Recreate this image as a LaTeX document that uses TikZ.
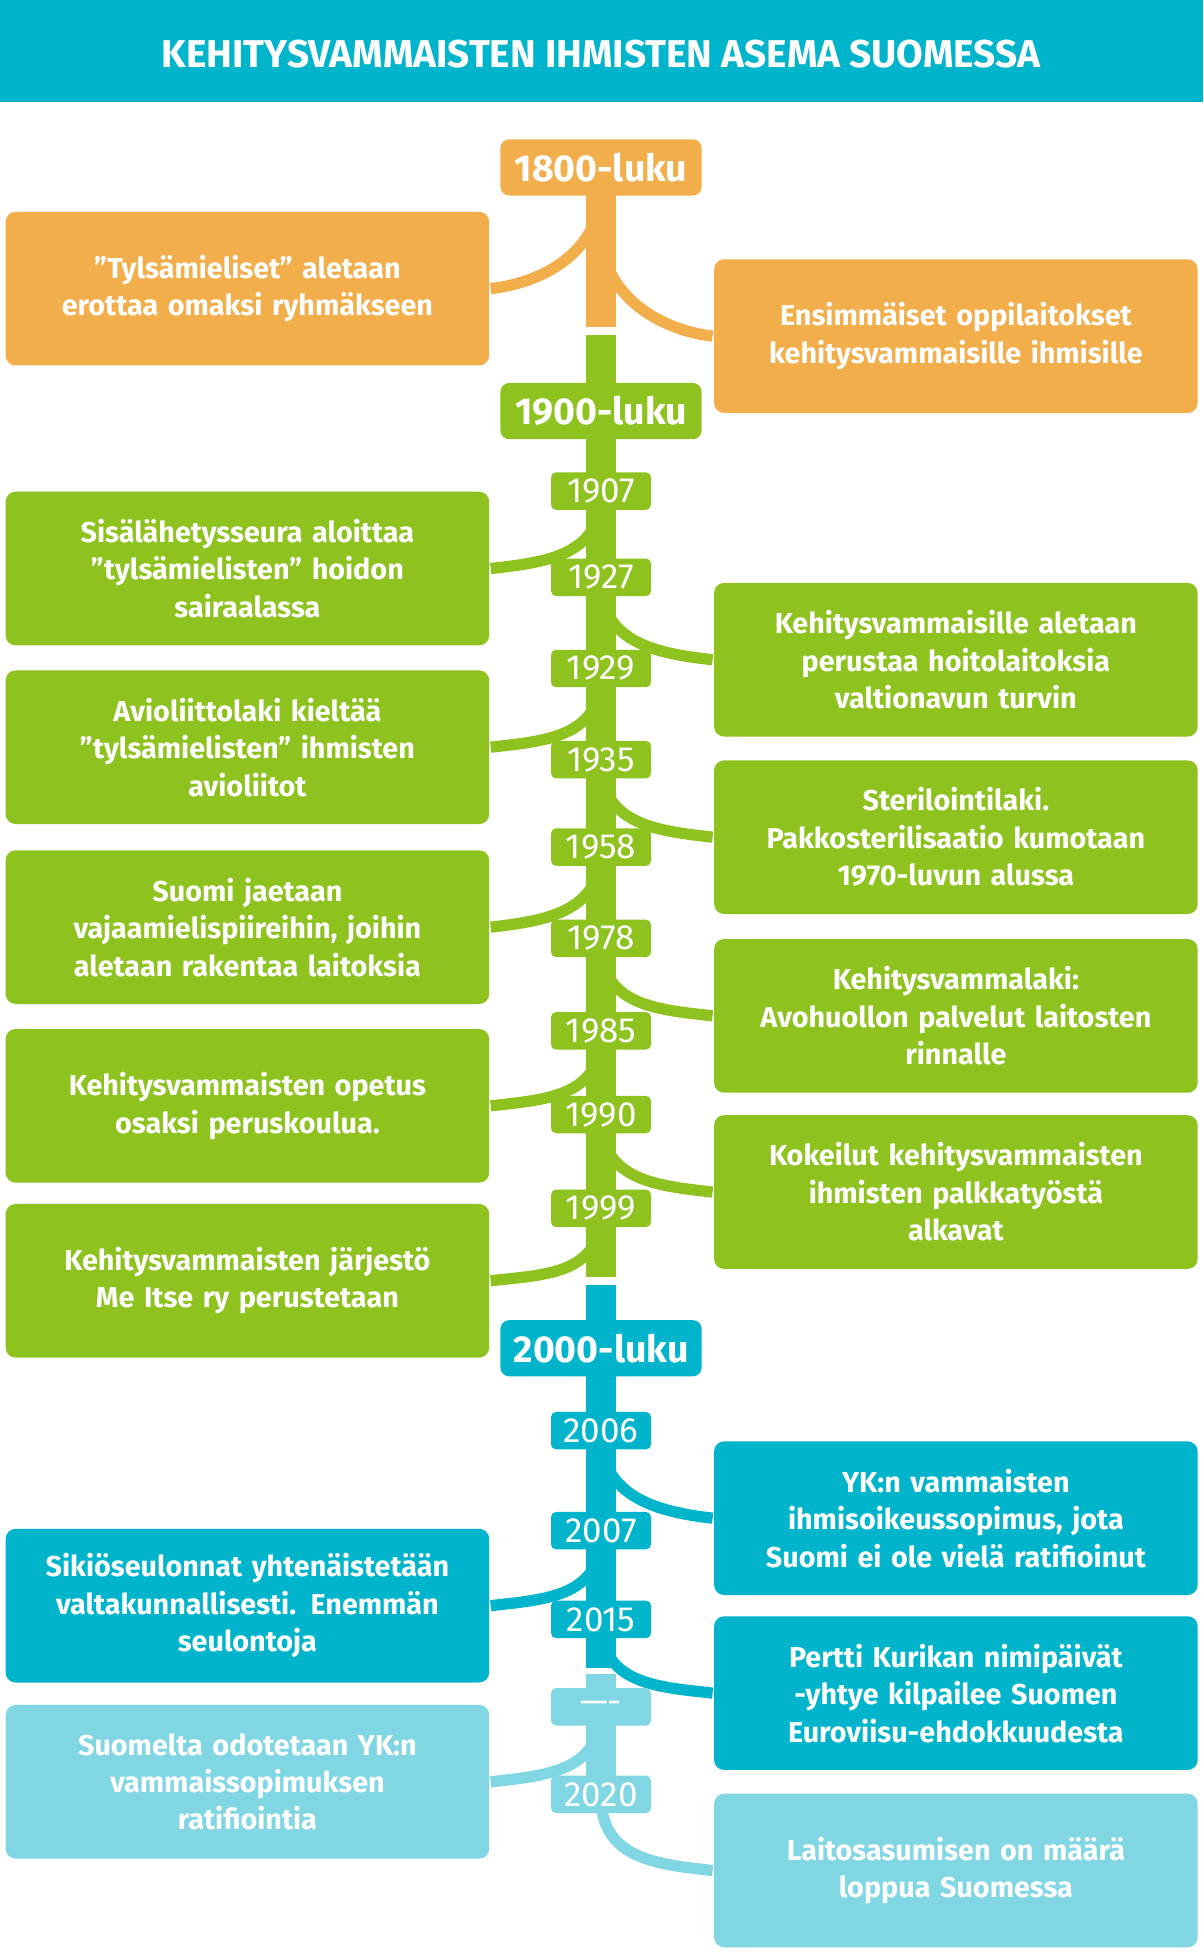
\documentclass[tikz,border=0pt]{standalone}
\usepackage{fontspec}
\setmainfont{Fira Sans}
\usetikzlibrary{calc}
\begin{document}
\begin{tikzpicture}[x=1pt,y=-1pt,
  box/.style={rounded corners=8pt,minimum width=387pt,minimum height=123pt,text width=370pt,align=center,text=white,font=\fontsize{23}{30}\selectfont\bfseries,inner sep=0pt},
  era/.style={rounded corners=7pt,minimum width=161pt,minimum height=45pt,text=white,font=\fontsize{30}{32}\selectfont\bfseries,inner sep=0pt},
  tag/.style={rounded corners=4pt,minimum width=80pt,minimum height=30pt,text=white,font=\fontsize{28}{30}\selectfont,inner sep=0pt},
  br/.style={line width=9pt}]
\definecolor{cor}{HTML}{F2AE4B}
\definecolor{cgr}{HTML}{8DC21F}
\definecolor{cte}{HTML}{00B5CB}
\definecolor{clt}{HTML}{80D6E2}
\useasboundingbox (0,0) rectangle (963,1563);
\fill[cte] (0,0) rectangle (963,82);
\node[text=white,font=\fontsize{31}{34}\selectfont\bfseries] (title) at (481,43) {KEHITYSVAMMAISTEN IHMISTEN ASEMA SUOMESSA};
% spine
\fill[cor] (469,150) rectangle (493,262);
\fill[cgr] (469,268) rectangle (493,1022);
\fill[cte] (469,1028) rectangle (493,1335);
\fill[clt] (469,1340) rectangle (493,1450);
% boxes
\node[box,fill=cor] (l0) at (198,231) {"Tylsämieliset" aletaan\\erottaa omaksi ryhmäkseen};
\node[box,fill=cor] (r0) at (765,269) {Ensimmäiset oppilaitokset\\kehitysvammaisille ihmisille};
\node[box,fill=cgr] (l1) at (198,455) {Sisälähetysseura aloittaa\\"tylsämielisten" hoidon\\sairaalassa};
\node[box,fill=cgr] (r1) at (765,528) {Kehitysvammaisille aletaan\\perustaa hoitolaitoksia\\valtionavun turvin};
\node[box,fill=cgr] (l2) at (198,598) {Avioliittolaki kieltää\\"tylsämielisten" ihmisten\\avioliitot};
\node[box,fill=cgr] (r2) at (765,670) {Sterilointilaki.\\Pakkosterilisaatio kumotaan\\1970-luvun alussa};
\node[box,fill=cgr] (l3) at (198,742) {Suomi jaetaan\\vajaamielispiireihin, joihin\\aletaan rakentaa laitoksia};
\node[box,fill=cgr] (r3) at (765,813) {Kehitysvammalaki:\\Avohuollon palvelut laitosten\\rinnalle};
\node[box,fill=cgr] (l4) at (198,885) {Kehitysvammaisten opetus\\osaksi peruskoulua.};
\node[box,fill=cgr] (r4) at (765,954) {Kokeilut kehitysvammaisten\\ihmisten palkkatyöstä\\alkavat};
\node[box,fill=cgr] (l5) at (198,1025) {Kehitysvammaisten järjestö\\Me Itse ry perustetaan};
\node[box,fill=cte] (r6) at (765,1215) {YK:n vammaisten\\ihmisoikeussopimus, jota\\Suomi ei ole vielä ratifioinut};
\node[box,fill=cte] (l6) at (198,1285) {Sikiöseulonnat yhtenäistetään\\valtakunnallisesti. Enemmän\\seulontoja};
\node[box,fill=cte] (r7) at (765,1355) {Pertti Kurikan nimipäivät\\-yhtye kilpailee Suomen\\Euroviisu-ehdokkuudesta};
\node[box,fill=clt] (l7) at (198,1426) {Suomelta odotetaan YK:n\\vammaissopimuksen\\ratifiointia};
\node[box,fill=clt] (r8) at (765,1497) {Laitosasumisen on määrä\\loppua Suomessa};
% spine points
\foreach \n/\y in {a0/150,b0/185,a1/395,b1/465,a2/540,b2/610,a3/680,b3/755,a4/828,b4/895,a5/970,b6/1148,a6/1228,b7/1298,a7/1368,b8/1438}
  \coordinate (s\n) at (481,\y);
\foreach \s/\t/\c in {a0/l0/cor,a1/l1/cgr,a2/l2/cgr,a3/l3/cgr,a4/l4/cgr,a5/l5/cgr,a6/l6/cte,a7/l7/clt}
  \draw[br,\c] (s\s) .. controls ($(s\s)+(0,50)$) and ($(\t.east)+(45,-5)$) .. ($(\t.east)+(1,0)$);
\foreach \s/\t/\c in {b0/r0/cor,b1/r1/cgr,b2/r2/cgr,b3/r3/cgr,b4/r4/cgr,b6/r6/cte,b7/r7/cte,b8/r8/clt}
  \draw[br,\c] (s\s) .. controls ($(s\s)+(0,50)$) and ($(\t.west)+(-45,-5)$) .. ($(\t.west)+(-1,0)$);
% eras
\node[era,fill=cor] (e1) at (481,134) {1800-luku};
\node[era,fill=cgr] (e2) at (481,329) {1900-luku};
\node[era,fill=cte] (e3) at (481,1079) {2000-luku};
\foreach \n/\y/\c/\t in {t1/393/cgr/1907,t2/462/cgr/1927,t3/535/cgr/1929,t4/608/cgr/1935,t5/678/cgr/1958,t6/751/cgr/1978,t7/825/cgr/1985,t8/892/cgr/1990,t9/967/cgr/1999,t10/1145/cte/2006,t11/1225/cte/2007,t12/1296/cte/2015,t13/1366/clt/{----},t14/1436/clt/2020}
  \node[tag,fill=\c] (\n) at (481,\y) {\t};
\end{tikzpicture}
\end{document}
